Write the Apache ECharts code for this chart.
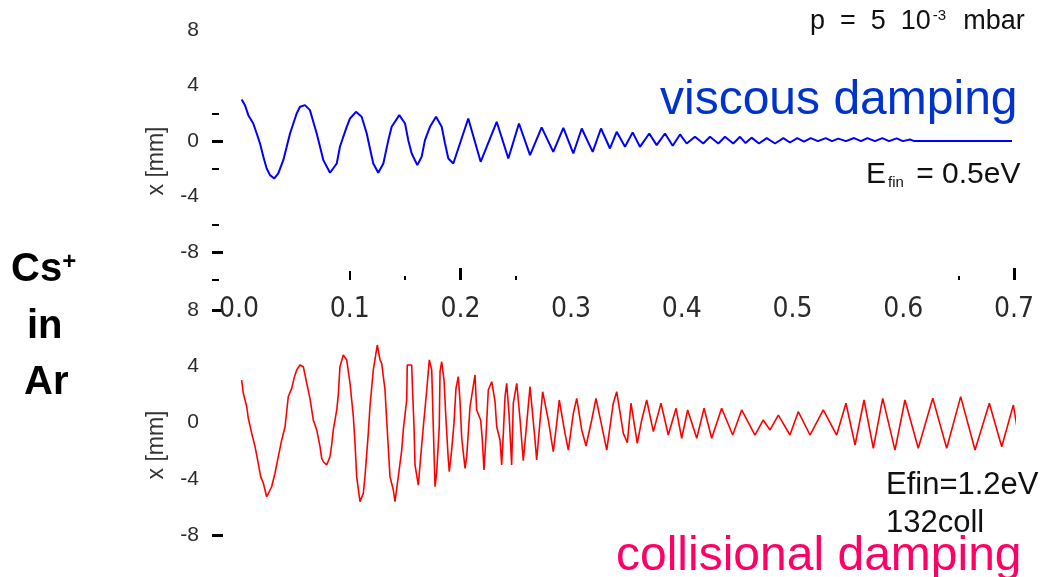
<!DOCTYPE html>
<html><head><meta charset="utf-8">
<script src="https://cdn.jsdelivr.net/npm/echarts@6/dist/echarts.min.js"></script>
<style>html,body{margin:0;padding:0;background:#fff}#c{width:1048px;height:577px}</style>
</head><body><div id="c"></div>
<script>
// ---- data (time in s, displacement x in mm) ----
const xTickLabels = [0, 0.1, 0.2, 0.3, 0.4, 0.5, 0.6, 0.7];
const xMajorTicks = [0.2, 0.7];
const xMidTicks = [0.1];
const xMinorTicks = [0.15, 0.25, 0.65];
const topYLabels = [8, 4, 0, -4, -8];
const topYMajorTicks = [0, -8];
const topYMinorTicks = [2, -2, -6, -10];
const bottomYLabels = [8, 4, 0, -4, -8];
const bottomYMajorTicks = [8, -8];

const viscousTime = [0.0024,0.0054,0.0084,0.0129,0.0160,0.0190,0.0220,0.0250,0.0280,0.0319,0.0355,0.0400,0.0431,0.0461,0.0491,0.0521,0.0551,0.0596,0.0641,0.0671,0.0702,0.0732,0.0762,0.0822,0.0883,0.0912,0.0942,0.0973,0.1003,0.1057,0.1108,0.1154,0.1183,0.1213,0.1258,0.1304,0.1349,0.1379,0.1448,0.1500,0.1529,0.1560,0.1611,0.1650,0.1680,0.1725,0.1780,0.1831,0.1861,0.1891,0.1936,
0.2071,0.2183,0.2328,0.2433,0.2529,0.2629,0.2734,0.2839,0.2930,0.3020,0.3096,0.3195,0.3270,0.3351,0.3412,0.3487,0.3556,0.3622,0.3706,0.3773,0.3848,0.3918,0.3984,0.4044,0.4119,0.4194,0.4255,0.4330,0.4390,0.4465,0.4526,
0.4576,0.4630,0.4697,0.4767,0.4842,0.4917,0.4977,0.5043,0.5104,0.5164,0.5230,0.5300,0.5357,0.5414,0.5483,0.5556,0.5619,0.5676,0.5745,0.5811,0.5872,0.5941,0.5998,0.6061,0.6098,0.6983];
const viscousX = [3.00,2.59,1.87,1.27,0.55,-0.17,-1.13,-1.97,-2.45,-2.69,-2.33,-1.37,-0.41,0.55,1.27,1.99,2.47,2.59,2.23,1.39,0.55,-0.41,-1.37,-2.28,-1.61,-0.41,0.31,1.03,1.63,2.11,1.75,0.55,-0.53,-1.61,-2.28,-1.61,0.07,1.03,1.87,1.27,0.07,-0.89,-1.73,-1.13,0.07,1.03,1.75,1.03,-0.17,-1.25,-1.61,
1.63,-1.49,1.39,-1.25,1.27,-1.01,0.99,-0.77,0.96,-0.89,0.91,-0.77,0.91,-0.53,0.67,-0.41,0.63,-0.41,0.55,-0.29,0.55,-0.34,0.48,-0.17,0.31,-0.17,0.31,-0.17,0.31,-0.17,0.31,
-0.14,0.25,-0.17,0.22,-0.17,0.22,-0.10,0.22,-0.04,0.22,0,0.22,0,0.18,0,0.22,0,0.22,0,0.22,0,0.20,0,0.12,0,0];

const collisionalTime = [0.0024,0.0039,0.0070,0.0084,0.0115,0.0145,0.0174,0.0196,0.0220,0.0250,
0.0295,0.0325,0.0355,0.0386,0.0416,0.0445,0.0476,0.0497,0.0521,0.0551,
0.0581,0.0612,0.0641,0.0671,0.0702,0.0732,0.0747,0.0762,0.0792,0.0822,
0.0837,0.0852,0.0883,0.0897,0.0912,0.0942,0.0973,0.1003,0.1033,0.1048,
0.1063,0.1093,0.1123,0.1138,0.1168,0.1183,0.1213,0.1249,0.1274,0.1289,
0.1319,0.1334,0.1349,0.1364,0.1394,0.1409,0.1439,0.1470,0.1484,0.1515,
0.1520,0.1560,0.1569,0.1581,0.1590,0.1620,0.1635,0.1665,0.1696,0.1719,
0.1741,0.1755,0.1771,0.1786,0.1809,0.1816,0.1831,0.1852,0.1870,0.1891,
0.1900,0.1921,0.1942,0.1960,0.1981,0.1996,0.2012,0.2042,0.2057,0.2087,
0.2132,0.2147,0.2183,0.2198,0.2213,0.2231,0.2252,0.2283,0.2313,0.2328,
0.2358,0.2373,0.2388,0.2403,0.2418,0.2439,0.2463,0.2478,0.2509,0.2538,
0.2568,0.2599,0.2629,0.2644,0.2674,0.2689,0.2719,0.2743,0.2794,0.2839,
0.2870,0.2893,0.2945,0.2975,0.3020,0.3051,0.3096,0.3135,0.3186,0.3225,
0.3291,0.3322,0.3381,0.3412,0.3472,0.3508,0.3541,0.3598,0.3638,0.3683,
0.3743,0.3812,0.3878,0.3948,0.3999,0.4053,0.4135,0.4201,0.4270,0.4360,
0.4460,0.4541,0.4661,0.4736,0.4797,0.4872,0.4977,0.5052,0.5158,0.5278,
0.5399,0.5483,0.5565,0.5646,0.5730,0.5815,0.5926,0.6016,0.6136,0.6267,
0.6393,0.6519,0.6649,0.6778,0.6890,0.6995,0.7025];
const collisionalX = [3.02,2.08,1.12,0.30,-0.77,-1.72,-2.90,-3.85,-4.32,-5.28,
-4.57,-3.61,-2.43,-1.24,-0.30,1.83,2.43,3.14,3.73,4.09,
3.97,2.79,1.72,0.18,-0.53,-1.72,-2.55,-2.79,-3.02,-2.43,
-1.60,-0.53,0.89,1.96,3.97,4.80,4.45,2.79,0.41,-1.48,
-3.85,-5.63,-5.04,-3.85,-0.77,1.12,3.73,5.51,4.45,4.21,
2.31,0.18,-1.83,-3.85,-4.80,-5.63,-3.85,-1.96,-0.53,1.60,
4.09,4.09,2.08,-0.30,-3.02,-4.45,-3.02,-0.30,2.31,4.45,
3.73,-0.30,-4.57,-3.50,-0.30,3.61,4.32,3.02,0.18,-2.67,
-3.50,-1.96,-0.06,2.43,3.26,1.60,-1.12,-3.26,-2.43,1.12,
3.38,0.89,0.18,-1.24,-3.38,-1.01,2.31,2.90,1.48,-0.30,
-1.24,-3.02,-0.77,1.83,2.79,0.65,-3.02,1.37,2.79,0.30,
-2.72,-0.06,2.55,2.55,-1.24,-2.67,0.06,2.19,0.18,-2.08,
-0.06,1.60,-0.77,-1.96,0.65,1.72,-0.53,-1.67,0.18,1.72,
-0.77,-1.96,1.37,2.19,-0.77,-1.44,1.37,-1.48,0.18,1.60,
-0.65,1.37,-0.89,1.01,-1.12,0.89,-1.12,1.01,-1.12,1.01,
-0.89,0.89,-0.89,0.18,-0.53,0.53,-0.89,0.77,-0.89,0.89,
-0.89,1.37,-1.60,1.60,-1.83,1.72,-1.96,1.60,-1.83,1.72,
-1.83,1.84,-1.96,1.37,-1.72,1.24,-0.18];

// ---- chart ----
const zip = (a, b) => a.map((v, i) => [v, b[i]]);
const tickFont = "'Liberation Sans', Arial, sans-serif";
const narrowFont = "'Liberation Sans Narrow', 'DejaVu Sans Condensed', 'Liberation Sans', sans-serif";
const TOP = { left: 239, top: 30, width: 774.9, height: 250 };
const BOT = { left: 239, top: 310, width: 774.9, height: 225 };

function xAxisTicks(ticks, len, w, labels) {
  return {
    gridIndex: 0, type: 'value', min: 0, max: 0.7, position: 'bottom',
    axisLine: { show: false, onZero: false }, splitLine: { show: false },
    axisTick: { show: true, inside: true, length: len, customValues: ticks, lineStyle: { color: '#000', width: w } },
    axisLabel: labels ? {
      show: true, customValues: labels, margin: 16, fontSize: 28, fontFamily: narrowFont, color: '#2a2a2a',
      formatter: v => v.toFixed(1)
    } : { show: false }
  };
}
function yAxisTicks(grid, min, max, offset, ticks, len, w, labels) {
  return {
    gridIndex: grid, type: 'value', min: min, max: max, position: 'left', offset: offset,
    axisLine: { show: false, onZero: false }, splitLine: { show: false },
    axisTick: { show: true, length: len, customValues: ticks, lineStyle: { color: '#000', width: w } },
    axisLabel: labels ? {
      show: true, customValues: labels, margin: 24, fontSize: 21, fontFamily: tickFont, color: '#2a2a2a'
    } : { show: false }
  };
}

const chart = echarts.init(document.getElementById('c'), null, { renderer: 'canvas' });
chart.setOption({
  backgroundColor: '#fff',
  animation: false,
  grid: [TOP, BOT],
  xAxis: [
    xAxisTicks(xMajorTicks, 12, 3, xTickLabels),
    xAxisTicks(xMidTicks, 9, 2, null),
    xAxisTicks(xMinorTicks, 4, 2, null),
    { gridIndex: 1, type: 'value', min: 0, max: 0.7, show: false, axisLine: { onZero: false } }
  ],
  yAxis: [
    yAxisTicks(0, -10, 8, 16, topYMajorTicks, 11, 3, topYLabels),
    yAxisTicks(0, -10, 8, 20, topYMinorTicks, 7, 2, null),
    yAxisTicks(1, -8, 8, 16, bottomYMajorTicks, 11, 3, bottomYLabels)
  ],
  series: [
    {
      name: 'viscous damping', type: 'line', xAxisIndex: 0, yAxisIndex: 0,
      data: zip(viscousTime, viscousX), showSymbol: false, symbol: 'none',
      lineStyle: { color: '#0000ff', width: 2 }
    },
    {
      name: 'collisional damping', type: 'line', xAxisIndex: 3, yAxisIndex: 2,
      data: zip(collisionalTime, collisionalX), showSymbol: false, symbol: 'none', clip: false,
      lineStyle: { color: '#ff0000', width: 1.6 }
    }
  ],
  graphic: [
    { type: 'text', x: 810, y: 22, style: {
      text: '{a|p  =  5  10}{s|-3}{a|  mbar}', align: 'left', verticalAlign: 'middle', textAlign: 'left', textVerticalAlign: 'middle',
      rich: {
        a: { fontSize: 27, fontFamily: "'Liberation Sans', Arial, sans-serif", fill: '#111' },
        s: { fontSize: 15, fontFamily: "'Liberation Sans', Arial, sans-serif", fill: '#111', verticalAlign: 'top', padding: [0, 2, 0, 2] }
      } } },
    { type: 'text', x: 660, y: 101, style: {
      text: 'viscous damping', fill: '#0033cc', font: "48px 'Liberation Sans', Arial, sans-serif",
      align: 'left', verticalAlign: 'middle', textAlign: 'left', textVerticalAlign: 'middle' } },
    { type: 'text', x: 866, y: 175, style: {
      text: '{a|E}{s|fin}{a| = 0.5eV}', align: 'left', verticalAlign: 'middle', textAlign: 'left', textVerticalAlign: 'middle',
      rich: {
        a: { fontSize: 30, fontFamily: "'Liberation Sans', Arial, sans-serif", fill: '#111' },
        s: { fontSize: 15, fontFamily: "'Liberation Sans', Arial, sans-serif", fill: '#111', verticalAlign: 'bottom', padding: [0, 4, 0, 2] }
      } } },
    { type: 'text', x: 886, y: 485, style: {
      text: 'Efin=1.2eV', fill: '#111', font: "31px 'Liberation Sans', Arial, sans-serif",
      align: 'left', verticalAlign: 'middle', textAlign: 'left', textVerticalAlign: 'middle' } },
    { type: 'text', x: 886, y: 523, style: {
      text: '132coll', fill: '#111', font: "31px 'Liberation Sans', Arial, sans-serif",
      align: 'left', verticalAlign: 'middle', textAlign: 'left', textVerticalAlign: 'middle' } },
    { type: 'text', x: 616, y: 557, style: {
      text: 'collisional damping', fill: '#ff0066', font: "48px 'Liberation Sans', Arial, sans-serif",
      align: 'left', verticalAlign: 'middle', textAlign: 'left', textVerticalAlign: 'middle' } },
    { type: 'text', x: 11, y: 270, style: {
      text: '{a|Cs}{s|+}', align: 'left', verticalAlign: 'middle', textAlign: 'left', textVerticalAlign: 'middle',
      rich: {
        a: { fontSize: 40, fontWeight: 'bold', fontFamily: "'Liberation Sans', Arial, sans-serif", fill: '#000' },
        s: { fontSize: 24, fontWeight: 'bold', fontFamily: "'Liberation Sans', Arial, sans-serif", fill: '#000', verticalAlign: 'top' }
      } } },
    { type: 'text', x: 27, y: 327, style: {
      text: 'in', fill: '#000', font: "bold 40px 'Liberation Sans', Arial, sans-serif",
      align: 'left', verticalAlign: 'middle', textAlign: 'left', textVerticalAlign: 'middle' } },
    { type: 'text', x: 24, y: 383, style: {
      text: 'Ar', fill: '#000', font: "bold 40px 'Liberation Sans', Arial, sans-serif",
      align: 'left', verticalAlign: 'middle', textAlign: 'left', textVerticalAlign: 'middle' } },
    { type: 'text', x: 157, y: 161, rotation: Math.PI / 2, style: {
      text: 'x [mm]', fill: '#333', font: "23px 'Liberation Sans', Arial, sans-serif",
      align: 'center', verticalAlign: 'middle', textAlign: 'center', textVerticalAlign: 'middle' } },
    { type: 'text', x: 157, y: 445, rotation: Math.PI / 2, style: {
      text: 'x [mm]', fill: '#333', font: "23px 'Liberation Sans', Arial, sans-serif",
      align: 'center', verticalAlign: 'middle', textAlign: 'center', textVerticalAlign: 'middle' } }
  ]
});
</script>
</body></html>
